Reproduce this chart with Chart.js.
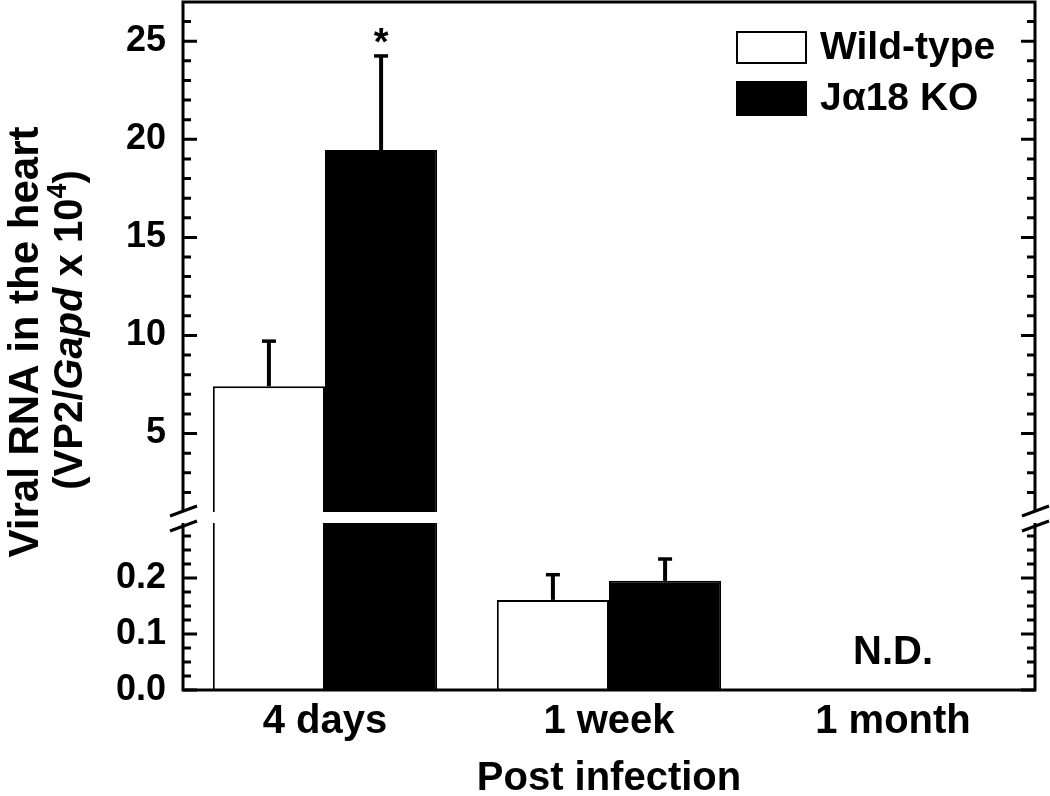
<!DOCTYPE html>
<html><head><meta charset="utf-8">
<script src="https://cdn.jsdelivr.net/npm/chart.js@4.4.0/dist/chart.umd.min.js"></script>
<style>html,body{margin:0;padding:0;background:#fff;}#wrap{width:1050px;height:796px;position:relative;}</style>
</head><body><div id="wrap"><canvas id="c" width="1050" height="796"></canvas></div>
<script>
// ---- data ----
const categories = ['4 days', '1 week', '1 month'];
const seriesNames = ['Wild-type', 'J\u03b118 KO'];
const wildType = [7.41, 0.161, null];
const wildTypeErr = [2.3, 0.045, null];
const ja18KO = [19.45, 0.195, null];
const ja18KOErr = [4.8, 0.039, null];
const koMarks = ['*', '', ''];
const categoryNotes = ['', '', 'N.D.'];
const upperTickLabels = [5, 10, 15, 20, 25];
const lowerTickLabels = [0.0, 0.1, 0.2];
const xTitle = 'Post infection';
const yTitleLine1 = 'Viral RNA in the heart';
const yTitleLine2 = [['(VP2/', ''], ['Gapd', 'italic'], [' x 10', ''], ['4', 'sup'], [')', '']];

// ---- layout constants ----
const FONT = '"Liberation Sans", Arial, sans-serif';
const GAP = 11;

Chart.defaults.font.family = FONT;
Chart.defaults.font.weight = 'bold';
Chart.defaults.color = '#000';

function isMajor(v, list) { return list.some(m => Math.abs(m - v) < 1e-9); }
function noPad(s) { s.paddingTop = 0; s.paddingBottom = 0; s.paddingLeft = 0; s.paddingRight = 0; }

const segmentClip = {
  id: 'segmentClip',
  beforeDatasetDraw(chart, args) {
    const s = args.meta.yScale, a = chart.chartArea, ctx = chart.ctx;
    ctx.save(); ctx.beginPath();
    ctx.rect(a.left - 5, s.top, a.right - a.left + 10, s.bottom - s.top);
    ctx.clip();
  },
  afterDatasetDraw(chart) { chart.ctx.restore(); }
};

const decorations = {
  id: 'decorations',
  afterDatasetsDraw(chart) {
    const ctx = chart.ctx, a = chart.chartArea;
    const yU = chart.scales.yU, yL = chart.scales.yL;
    // white break band
    ctx.save();
    ctx.fillStyle = '#fff';
    ctx.fillRect(a.left - 3, yU.bottom, a.right - a.left + 6, GAP);
    ctx.restore();
    // error bars
    const series = [[wildType, wildTypeErr, 2], [ja18KO, ja18KOErr, 3]];
    ctx.save();
    ctx.strokeStyle = '#000';
    series.forEach(([vals, errs, dsIndex]) => {
      const meta = chart.getDatasetMeta(dsIndex);
      vals.forEach((v, i) => {
        if (v == null || errs[i] == null) return;
        const top = v + errs[i];
        const sc = top <= yL.max ? yL : yU;
        const x = meta.data[i].x;
        const y0 = sc.getPixelForValue(v), y1 = sc.getPixelForValue(top);
        ctx.lineWidth = 4;
        ctx.beginPath(); ctx.moveTo(x, y0); ctx.lineTo(x, y1); ctx.stroke();
        ctx.lineWidth = 3.5;
        ctx.beginPath(); ctx.moveTo(x - 7, y1); ctx.lineTo(x + 7, y1); ctx.stroke();
        if (dsIndex === 3 && koMarks[i]) {
          ctx.fillStyle = '#000';
          ctx.font = 'bold 38px ' + FONT;
          ctx.textAlign = 'center'; ctx.textBaseline = 'middle';
          ctx.fillText(koMarks[i], x, y1 - 11);
        }
      });
    });
    ctx.restore();
  },
  afterDraw(chart) {
    const ctx = chart.ctx, a = chart.chartArea;
    const yU = chart.scales.yU, yL = chart.scales.yL, x = chart.scales.x;
    const gTop = yU.bottom, gBot = yU.bottom + GAP;
    ctx.save();
    ctx.strokeStyle = '#000'; ctx.lineWidth = 3; ctx.lineCap = 'butt';
    // frame
    ctx.beginPath();
    ctx.moveTo(a.left - 1.5, a.top); ctx.lineTo(a.right + 1.5, a.top);
    ctx.moveTo(a.left - 1.5, a.bottom); ctx.lineTo(a.right + 1.5, a.bottom);
    [a.left, a.right].forEach(px => {
      ctx.moveTo(px, a.top); ctx.lineTo(px, gTop);
      ctx.moveTo(px, gBot); ctx.lineTo(px, a.bottom);
    });
    ctx.stroke();
    // tick marks (inward, both sides)
    ctx.beginPath();
    [[yU, upperTickLabels], [yL, lowerTickLabels]].forEach(([sc, majors]) => {
      sc.ticks.forEach(t => {
        const py = sc.getPixelForValue(t.value);
        const len = isMajor(t.value, majors) ? 14 : 8;
        ctx.moveTo(a.left, py); ctx.lineTo(a.left + len, py);
        ctx.moveTo(a.right, py); ctx.lineTo(a.right - len, py);
      });
    });
    ctx.stroke();
    // break marks
    ctx.beginPath();
    [a.left, a.right].forEach(px => {
      [gTop - 1, gBot + 3].forEach(py => {
        ctx.moveTo(px - 13, py + 5); ctx.lineTo(px + 14, py - 5);
      });
    });
    ctx.stroke();
    // category notes (N.D.)
    ctx.fillStyle = '#000';
    ctx.font = 'bold 40px ' + FONT;
    ctx.textAlign = 'center'; ctx.textBaseline = 'alphabetic';
    categoryNotes.forEach((n, i) => {
      if (n) ctx.fillText(n, x.getPixelForValue(i), yL.getPixelForValue(0.0) - 26);
    });
    // x title
    ctx.fillText(xTitle, (a.left + a.right) / 2, 790);
    // legend
    const ds = chart.data.datasets;
    [[ds[0], 31, 33], [ds[1], 81, 35]].forEach(([d, top, h]) => {
      ctx.fillStyle = d.backgroundColor;
      ctx.fillRect(736, top, 71, h);
      ctx.lineWidth = 2; ctx.strokeStyle = '#000';
      ctx.strokeRect(737, top + 1, 69, h - 2);
      ctx.fillStyle = '#000';
      ctx.textAlign = 'left'; ctx.textBaseline = 'middle';
      ctx.font = 'bold 39px ' + FONT;
      ctx.fillText(d.label, 820, top + h / 2 + 1);
    });
    // y title
    ctx.save();
    ctx.translate(38, 342); ctx.rotate(-Math.PI / 2);
    ctx.textAlign = 'center'; ctx.textBaseline = 'alphabetic';
    ctx.font = 'bold 42px ' + FONT;
    ctx.fillText(yTitleLine1, 0, 0);
    ctx.restore();
    ctx.save();
    ctx.translate(82, 330); ctx.rotate(-Math.PI / 2);
    ctx.textAlign = 'left'; ctx.textBaseline = 'alphabetic';
    const fontFor = k => k === 'italic' ? 'italic bold 40px ' + FONT : k === 'sup' ? 'bold 27px ' + FONT : 'bold 40px ' + FONT;
    let total = 0;
    yTitleLine2.forEach(([t, k]) => { ctx.font = fontFor(k); total += ctx.measureText(t).width; });
    let cx = -total / 2;
    yTitleLine2.forEach(([t, k]) => {
      ctx.font = fontFor(k);
      ctx.fillText(t, cx, k === 'sup' ? -16 : 0);
      cx += ctx.measureText(t).width;
    });
    ctx.restore();
    ctx.restore();
  }
};

const barStyle = (color) => ({ backgroundColor: color, borderColor: '#000', borderWidth: 2, categoryPercentage: 0.79, barPercentage: 1.0 });

new Chart(document.getElementById('c'), {
  type: 'bar',
  data: {
    labels: categories,
    datasets: [
      Object.assign({ label: seriesNames[0], data: wildType, yAxisID: 'yU', stack: 'wt' }, barStyle('#ffffff')),
      Object.assign({ label: seriesNames[1], data: ja18KO, yAxisID: 'yU', stack: 'ko' }, barStyle('#000000')),
      Object.assign({ label: seriesNames[0], data: wildType, yAxisID: 'yL', stack: 'wt' }, barStyle('#ffffff')),
      Object.assign({ label: seriesNames[1], data: ja18KO, yAxisID: 'yL', stack: 'ko' }, barStyle('#000000'))
    ]
  },
  options: {
    responsive: false,
    animation: false,
    layout: { padding: { top: 2, right: 15, left: 0, bottom: 0 } },
    plugins: { legend: { display: false }, tooltip: { enabled: false } },
    scales: {
      x: {
        type: 'category', offset: true,
        grid: { display: false, drawTicks: false }, border: { display: false },
        ticks: { font: { size: 40, weight: 'bold' }, padding: 8, maxRotation: 0, color: '#000' },
        afterFit(s) { s.height = 106; noPad(s); }
      },
      yL: {
        type: 'linear', position: 'left', stack: 'v', stackWeight: 178,
        min: 0, max: 0.318, stacked: false,
        grid: { display: false, drawTicks: false }, border: { display: false },
        ticks: { font: { size: 36, weight: 'bold' }, padding: 17, color: '#000', autoSkip: false,
          callback(v) { return isMajor(v, lowerTickLabels) ? v.toFixed(1) : ''; } },
        afterBuildTicks(s) { const t = []; for (let k = 0; k <= 11; k++) t.push({ value: k / 40 }); s.ticks = t; },
        afterFit(s) { s.width = 183; noPad(s); }
      },
      yU: {
        type: 'linear', position: 'left', stack: 'v', stackWeight: 510,
        min: 1, max: 27, stacked: false,
        grid: { display: false, drawTicks: false }, border: { display: false },
        ticks: { font: { size: 36, weight: 'bold' }, padding: 17, color: '#000', autoSkip: false,
          callback(v) { return isMajor(v, upperTickLabels) ? String(v) : ''; } },
        afterBuildTicks(s) { const t = []; for (let k = 2; k <= 26; k++) t.push({ value: k }); s.ticks = t; },
        afterFit(s) { s.width = 183; noPad(s); }
      }
    }
  },
  plugins: [segmentClip, decorations]
});
</script>
</body></html>
